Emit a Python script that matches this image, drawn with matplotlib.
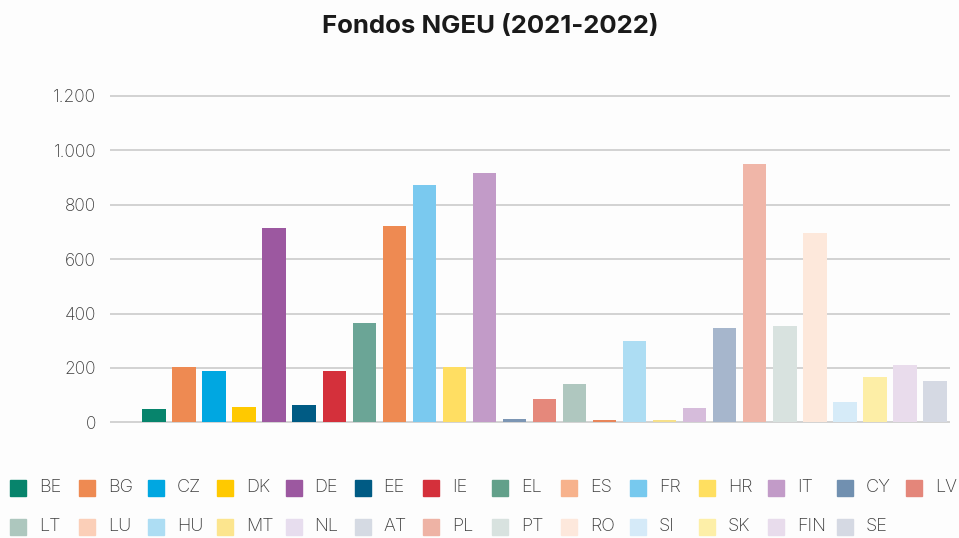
import matplotlib
matplotlib.use("Agg")
import matplotlib.pyplot as plt
from matplotlib.patches import Rectangle

# NGEU funds per country (2021-2022)
countries = ['BE', 'BG', 'CZ', 'DK', 'DE', 'EE', 'IE', 'EL', 'ES', 'FR', 'HR', 'IT', 'CY', 'LV',
             'LT', 'LU', 'HU', 'MT', 'NL', 'AT', 'PL', 'PT', 'RO', 'SI', 'SK', 'FIN', 'SE']
values = [48, 204, 188, 56, 715, 65, 190, 367, 723, 871, 204, 916, 12, 86,
          141, 10, 299, 9, 53, 346, 951, 356, 697, 76, 166, 211, 152]

y_ticks = [0, 200, 400, 600, 800, 1000, 1200]
y_tick_labels = ['0', '200', '400', '600', '800', '1.000', '1.200']

bar_colors = ['#07846C', '#EE8A52', '#00A7E1', '#FFC900', '#9C58A0', '#005B84', '#D4303B',
              '#6BA596', '#EE8A52', '#7AC9EF', '#FFDE62', '#C29BC8', '#7C96B4', '#E5887B',
              '#AFC7BF', '#E8855A', '#ADDDF3', '#F6E08A', '#D6BCDB', '#A6B6CC', '#F0B6A8',
              '#D8E2DF', '#FDE8DB', '#D6EBF8', '#FDEEA6', '#E9DCEC', '#D5D9E3']
legend_colors = ['#07846C', '#EE8A52', '#00A7E1', '#FFC900', '#9C58A0', '#005B84', '#D4303B',
                 '#62A08A', '#F7B28C', '#77C9EE', '#FFDF60', '#C29BC8', '#7190B0', '#E4867A',
                 '#ADC7BE', '#FBCFB8', '#ADDDF3', '#FCE58E', '#E7DDEE', '#D5DAE3', '#EEB3A5',
                 '#D8E2DF', '#FDE8DC', '#D5EAF8', '#FDEFA8', '#E8DCEC', '#D5D9E3']

plt.rcParams['font.family'] = ['Inter', 'DejaVu Sans']

W, H = 959, 538
fig = plt.figure(figsize=(W / 100, H / 100), dpi=100)
fig.patch.set_facecolor('#FDFDFD')

ax = fig.add_axes([110 / W, 1 - 423.7 / H, 840 / W, 329.1 / H])
ax.set_facecolor('#FDFDFD')
x = list(range(len(countries)))
ax.bar(x, values, width=0.78, color=bar_colors, zorder=3)
ax.set_xlim(-1.465, 26.5)
ax.set_ylim(-5, 1205)
ax.set_yticks(y_ticks)
ax.set_yticklabels(y_tick_labels, fontweight='light')
ax.set_xticks([])
ax.tick_params(axis='y', length=0, pad=10, labelsize=12.5, labelcolor='#3C3C3C')
ax.grid(axis='y', color='#D2D2D2', linewidth=1.4, zorder=0)
for s in ax.spines.values():
    s.set_visible(False)

fig.text(0.511, 1 - 33 / H, 'Fondos NGEU (2021-2022)', ha='center', va='baseline',
         fontsize=18.5, fontweight='bold', color='#1A1A1A')

# legend as a fixed grid, 14 columns
for i, (name, col) in enumerate(zip(countries, legend_colors)):
    r, c = divmod(i, 14)
    px = 10 + c * 68.9
    py = 488 + r * 38.5
    fig.patches.append(Rectangle((px / W, 1 - (py + 8) / H), 16 / W, 16 / H,
                                 transform=fig.transFigure, color=col, figure=fig))
    fig.text((px + 29) / W, 1 - py / H, name, ha='left', va='center',
             fontsize=13, fontweight='light', color='#3C3C3C')

fig.savefig('out.png', dpi=100, facecolor=fig.get_facecolor())
